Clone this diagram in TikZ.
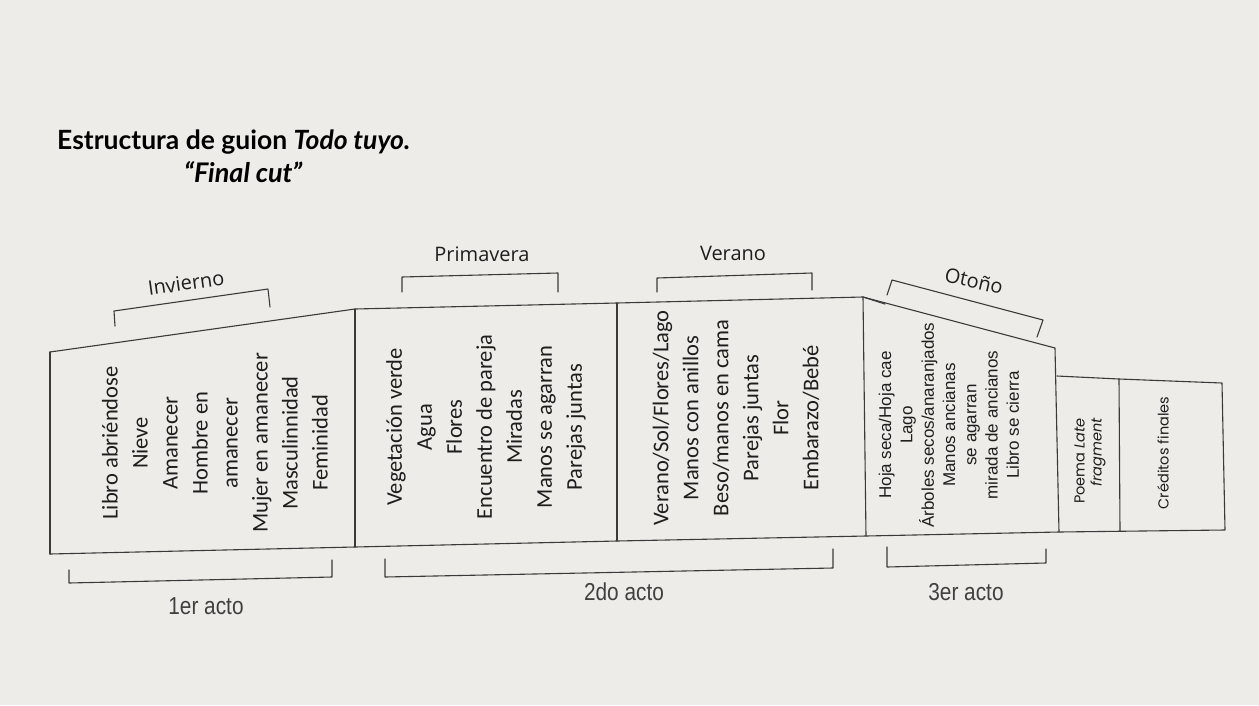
\documentclass[tikz,border=0pt]{standalone}
\usepackage{fontspec}
\setmainfont{Carlito}
\newfontfamily\titlefont{Lato}
\newfontfamily\labelfont{Open Sans}
\newfontfamily\arialfont{Liberation Sans}
\newfontfamily\actfont[FakeStretch=0.85]{Liberation Sans}
\newfontfamily\geofont{Poppins}
\definecolor{paper}{HTML}{EDECE9}
\definecolor{ink}{HTML}{3A3A3A}
\definecolor{txt}{HTML}{1E1E1E}
\tikzset{
  pen/.style={draw=ink, line width=1.1pt, line join=round, line cap=round},
  brk/.style={draw=ink, line width=1.1pt, line join=round, line cap=round},
  season/.style={inner sep=0pt, text=txt, font=\labelfont\fontsize{20}{23}\selectfont},
  bigcol/.style={inner sep=0pt, rotate=90, align=center, text=txt, font=\fontsize{22.5}{30}\selectfont},
  smallcol/.style={inner sep=0pt, rotate=90, align=center, text=txt, font=\arialfont\fontsize{17}{21.3}\selectfont},
  geocol/.style={inner sep=0pt, rotate=90, text=txt, font=\geofont\fontsize{14.5}{17}\selectfont},
  act/.style={inner sep=0pt, text=txt!85, font=\actfont\fontsize{24.5}{27}\selectfont},
}
\begin{document}
\begin{tikzpicture}[x=1pt,y=-1pt]
\useasboundingbox[fill=paper] (0,0) rectangle (1259,705);
% corners
\coordinate (A0) at (50,352);
\coordinate (A1) at (355,309);
\coordinate (A2) at (617,303);
\coordinate (A3) at (863,297);
\coordinate (A4) at (1055,348);
\coordinate (B0) at (50,554);
\coordinate (B1) at (355,547);
\coordinate (B2) at (617,541);
\coordinate (B3) at (866,536);
\coordinate (B4) at (1059,532);
\coordinate (B5) at (1225,530);
\coordinate (C0) at (1057,376);
\coordinate (C1) at (1119,379);
\coordinate (C2) at (1222,383);
\coordinate (D1) at (1120,531);
% boxes
\draw[pen] (A0) -- (A1) -- (A2) -- (A3) -- (A4) -- (B4);
\draw[pen] (A3) -- (885,304);
\draw[pen] (B0) -- (B1) -- (B2) -- (B3) -- (B4) -- (B5) -- (C2) -- (C1) -- (C0);
\draw[pen] (A0) -- (B0);
\draw[pen] (A1) -- (B1);
\draw[pen] (A2) -- (B2);
\draw[pen] (A3) -- (B3);
\draw[pen] (C1) -- (D1);
% season brackets
\coordinate (i1) at (115,326); \coordinate (i2) at (114,311);
\coordinate (i3) at (268,289); \coordinate (i4) at (270,307);
\draw[brk] (i1) -- (i2) -- (i3) -- (i4);
\coordinate (p1) at (402,292); \coordinate (p2) at (402,277);
\coordinate (p3) at (558,273); \coordinate (p4) at (558,292);
\draw[brk] (p1) -- (p2) -- (p3) -- (p4);
\coordinate (v1) at (657,292); \coordinate (v2) at (657,278);
\coordinate (v3) at (812,273); \coordinate (v4) at (812,290);
\draw[brk] (v1) -- (v2) -- (v3) -- (v4);
\coordinate (o1) at (887,295); \coordinate (o2) at (892,280);
\coordinate (o3) at (1043,320); \coordinate (o4) at (1037,337);
\draw[brk] (o1) -- (o2) -- (o3) -- (o4);
% act brackets
\coordinate (a1) at (69,570); \coordinate (a2) at (69,583);
\coordinate (a3) at (332,577); \coordinate (a4) at (332,560);
\draw[brk] (a1) -- (a2) -- (a3) -- (a4);
\coordinate (b1) at (385,559); \coordinate (b2) at (385,577);
\coordinate (b3) at (833,568); \coordinate (b4) at (833,549);
\draw[brk] (b1) -- (b2) -- (b3) -- (b4);
\coordinate (c1) at (887,547); \coordinate (c2) at (887,567);
\coordinate (c3) at (1046,563); \coordinate (c4) at (1046,549);
\draw[brk] (c1) -- (c2) -- (c3) -- (c4);
% title
\node[anchor=base west, inner sep=0pt, text=black, font=\titlefont\bfseries\fontsize{26.5}{30}\selectfont] (title) at (57,149) {Estructura de guion \textit{Todo tuyo.}};
\node[anchor=base west, inner sep=0pt, text=black, font=\titlefont\bfseries\itshape\fontsize{27}{30}\selectfont] (sub) at (184,182) {“Final cut”};
% season labels
\node[season, rotate=8] (inv) at (186,283) {Invierno};
\node[season] (pri) at (482,254) {Primavera};
\node[season] (ver) at (733,253) {Verano};
\node[season, rotate=-13] (oto) at (974,281) {Otoño};
% box texts
\node[bigcol] (t1) at (215,443) {Libro abriéndose\\Nieve\\Amanecer\\Hombre en\\amanecer\\Mujer en amanecer\\Masculinnidad\\Feminidad};
\node[bigcol] (t2) at (486,427) {Vegetación verde\\Agua\\Flores\\Encuentro de pareja\\Miradas\\Manos se agarran\\Parejas juntas};
\node[bigcol] (t3) at (736,418) {Verano/Sol/Flores/Lago\\Manos con anillos\\Beso/manos en cama\\Parejas juntas\\Flor\\Embarazo/Bebé};
\node[smallcol] (t4) at (949,425) {Hoja seca/Hoja cae\\Lago\\Árboles secos/anaranjados\\Manos ancianas\\se agarran\\mirada de ancianos\\Libro se cierra};
\node[geocol, align=right, anchor=east] (t5) at (1090,418) {Poema \textit{Late}\\\textit{fragment}};
\node[geocol] (t6) at (1163,453) {Créditos finales};
% act labels
\node[act] (act1) at (206,606) {1er acto};
\node[act] (act2) at (624,592) {2do acto};
\node[act] (act3) at (966,592) {3er acto};
\end{tikzpicture}
\end{document}
